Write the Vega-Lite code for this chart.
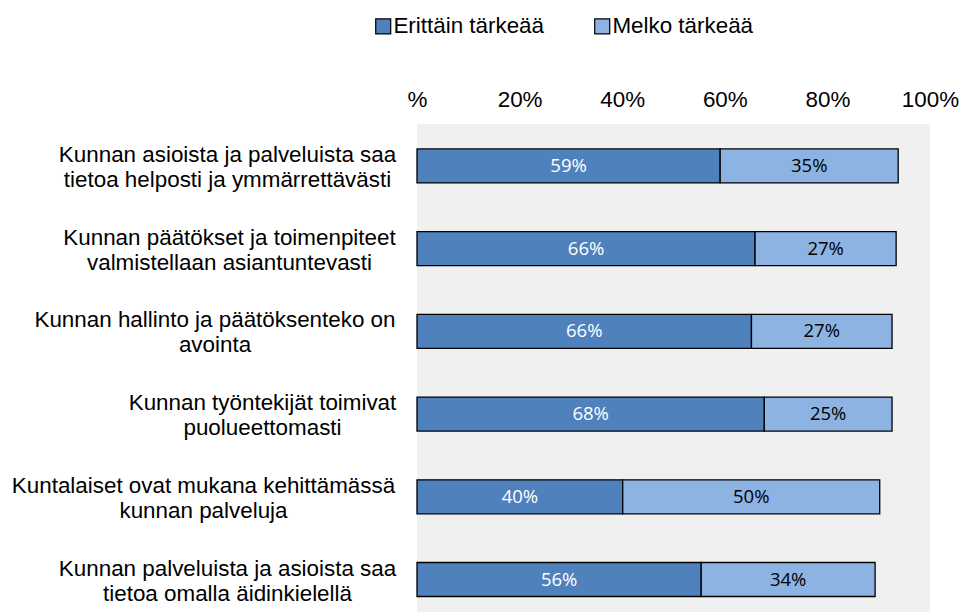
{
  "$schema": "https://vega.github.io/schema/vega-lite/v6.json",
  "autosize": {"type": "none"},
  "padding": {"left": 417, "top": 124, "right": 29, "bottom": 0},
  "width": 513,
  "height": 488,
  "background": "white",
  "config": {
    "view": {"fill": "#F0F0F0", "stroke": null},
    "font": "Liberation Sans"
  },
  "data": {
    "values": [
      {"item": "Kunnan asioista ja palveluista saa|tietoa helposti ja ymmärrettävästi", "rank": 1, "series": "Erittäin tärkeää", "order": 1, "value": 59.1, "label": "59%"},
      {"item": "Kunnan asioista ja palveluista saa|tietoa helposti ja ymmärrettävästi", "rank": 1, "series": "Melko tärkeää", "order": 2, "value": 34.7, "label": "35%"},
      {"item": "Kunnan päätökset ja toimenpiteet|valmistellaan asiantuntevasti", "rank": 2, "series": "Erittäin tärkeää", "order": 1, "value": 65.9, "label": "66%"},
      {"item": "Kunnan päätökset ja toimenpiteet|valmistellaan asiantuntevasti", "rank": 2, "series": "Melko tärkeää", "order": 2, "value": 27.5, "label": "27%"},
      {"item": "Kunnan hallinto ja päätöksenteko on|avointa", "rank": 3, "series": "Erittäin tärkeää", "order": 1, "value": 65.2, "label": "66%"},
      {"item": "Kunnan hallinto ja päätöksenteko on|avointa", "rank": 3, "series": "Melko tärkeää", "order": 2, "value": 27.4, "label": "27%"},
      {"item": "Kunnan työntekijät toimivat|puolueettomasti", "rank": 4, "series": "Erittäin tärkeää", "order": 1, "value": 67.7, "label": "68%"},
      {"item": "Kunnan työntekijät toimivat|puolueettomasti", "rank": 4, "series": "Melko tärkeää", "order": 2, "value": 24.9, "label": "25%"},
      {"item": "Kuntalaiset ovat mukana kehittämässä|kunnan palveluja", "rank": 5, "series": "Erittäin tärkeää", "order": 1, "value": 40.1, "label": "40%"},
      {"item": "Kuntalaiset ovat mukana kehittämässä|kunnan palveluja", "rank": 5, "series": "Melko tärkeää", "order": 2, "value": 50.1, "label": "50%"},
      {"item": "Kunnan palveluista ja asioista saa|tietoa omalla äidinkielellä", "rank": 6, "series": "Erittäin tärkeää", "order": 1, "value": 55.4, "label": "56%"},
      {"item": "Kunnan palveluista ja asioista saa|tietoa omalla äidinkielellä", "rank": 6, "series": "Melko tärkeää", "order": 2, "value": 33.9, "label": "34%"}
    ]
  },
  "transform": [
    {"stack": "value", "groupby": ["item"], "sort": [{"field": "order"}], "as": ["x0", "x1"]},
    {"calculate": "(datum.x0 + datum.x1) / 2", "as": "mid"}
  ],
  "encoding": {
    "y": {
      "field": "item",
      "type": "nominal",
      "sort": {"field": "rank", "op": "min"},
      "title": null,
      "scale": {"paddingInner": 0.589, "paddingOuter": 0.2447, "align": 0.617},
      "axis": {
        "domain": false,
        "ticks": false,
        "labelPadding": 20,
        "labelOffset": -11,
        "labelExpr": "split(datum.label, '|')",
        "labelFont": "Liberation Sans",
        "labelFontSize": 22.4,
        "labelLineHeight": 25,
        "labelColor": "#000000",
        "labelLimit": 600,
        "labelAlign": "center",
        "labelBaseline": "middle",
        "encoding": {
          "labels": {
            "dx": {
              "condition": [
                {"test": "indexof(datum.value,'helposti')>=0", "value": -170},
                {"test": "indexof(datum.value,'asiantuntevasti')>=0", "value": -168},
                {"test": "indexof(datum.value,'avointa')>=0", "value": -182.5},
                {"test": "indexof(datum.value,'puolueettomasti')>=0", "value": -135},
                {"test": "indexof(datum.value,'kunnan palveluja')>=0", "value": -194}
              ],
              "value": -170
            }
          }
        }
      }
    }
  },
  "layer": [
    {
      "mark": {"type": "bar", "stroke": "#000000", "strokeWidth": 1.3},
      "encoding": {
        "x": {
          "field": "x0",
          "type": "quantitative",
          "title": null,
          "scale": {"domain": [0, 100], "nice": false},
          "axis": {
            "orient": "top",
            "values": [0, 20, 40, 60, 80, 100],
            "labelExpr": "datum.value == 0 ? '%' : datum.value + '%'",
            "domain": false,
            "ticks": false,
            "grid": false,
            "labelPadding": 13,
            "labelFont": "Liberation Sans",
            "labelFontSize": 22.4,
            "labelColor": "#000000",
            "labelFlush": false,
            "labelOverlap": false
          }
        },
        "x2": {"field": "x1"},
        "color": {
          "field": "series",
          "type": "nominal",
          "scale": {"domain": ["Erittäin tärkeää", "Melko tärkeää"], "range": ["#4F81BD", "#8DB3E2"]},
          "legend": {
            "title": null,
            "orient": "none",
            "direction": "horizontal",
            "legendX": -45,
            "legendY": -109,
            "padding": 0,
            "symbolType": "square",
            "symbolSize": 225,
            "symbolStrokeColor": "#000000",
            "symbolStrokeWidth": 1.2,
            "symbolOpacity": 1,
            "labelFont": "Liberation Sans",
            "labelFontSize": 22.4,
            "labelColor": "#000000",
            "labelOffset": -1,
            "columnPadding": 47,
            "labelLimit": 400
          }
        }
      }
    },
    {
      "mark": {"type": "text", "font": "Open Sans", "fontSize": 18.5, "baseline": "middle", "align": "center"},
      "encoding": {
        "x": {"field": "mid", "type": "quantitative"},
        "text": {"field": "label"},
        "color": {
          "condition": {"test": "datum.series === 'Erittäin tärkeää'", "value": "#FFFFFF"},
          "value": "#000000"
        }
      }
    }
  ]
}
